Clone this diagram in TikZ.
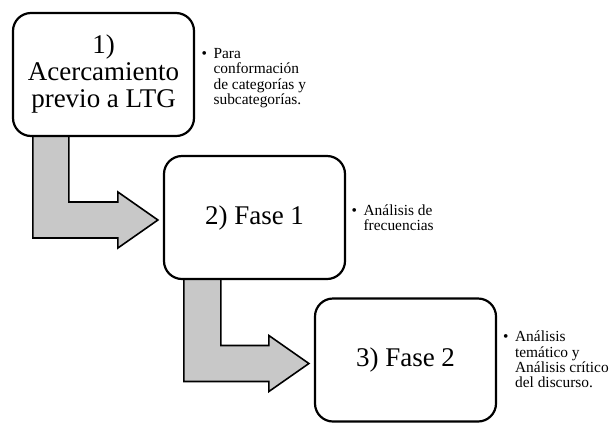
\documentclass[tikz,border=0pt]{standalone}
\usepackage{fontspec}
\setmainfont{Liberation Serif}
\usetikzlibrary{positioning, calc, backgrounds}
\definecolor{arrowgray}{HTML}{C8C8C8}

\begin{document}
\begin{tikzpicture}[x=1pt, y=-1pt,
  stage/.style={rectangle, draw=black, fill=white, line width=2.2pt, rounded corners=18pt, minimum width=181pt, minimum height=123pt, inner sep=0pt, align=center, font=\fontsize{27}{27}\selectfont},
  note/.style={anchor=north west, inner sep=0pt, font=\fontsize{15.4}{15.2}\selectfont},
  bendarrow/.style={draw=black, fill=arrowgray, line width=1.6pt, line join=miter}
]
  \useasboundingbox (0,0) rectangle (612,424);

  % Stages
  \node[stage] (fase0) at (103.5, 74.5) {1)\\Acercamiento\\previo a LTG};
  \node[stage] (fase1) at (254.5, 217.5) {2) Fase 1};
  \node[stage] (fase2) at (405.5, 360) {3) Fase 2};

  % Notes
  \node[note] (info0) at (201.5, 47.5) {\begin{tabular}{@{}l@{\hspace{6.5pt}}l@{}}\textbullet & Para\\ & conformación\\ & de categorías y\\ & subcategorías.\end{tabular}};
  \node[note] (info1) at (351.5, 204.5) {\begin{tabular}{@{}l@{\hspace{6.5pt}}l@{}}\textbullet & Análisis de\\ & frecuencias\end{tabular}};
  \node[note] (info2) at (503, 331) {\begin{tabular}{@{}l@{\hspace{6.5pt}}l@{}}\textbullet & Análisis\\ & temático y\\ & Análisis crítico\\ & del discurso.\end{tabular}};

  % Arrows
  \begin{scope}[on background layer]
    \draw[bendarrow] let \p1=(fase0.south west), \p2=($(fase1.west)+(-5,2.5)$) in
      (\x1+21pt,\y1+2pt) -- (\x1+57pt,\y1+2pt) -- (\x1+57pt,\y2+18pt) -- (\x2-40pt,\y2+18pt)
      -- (\x2-40pt,\y2+28pt) -- (\p2) -- (\x2-40pt,\y2-28pt) -- (\x2-40pt,\y2-18pt)
      -- (\x1+21pt,\y2-18pt) -- cycle;
    \draw[bendarrow] let \p1=(fase1.south west), \p2=($(fase2.west)+(-5,3.5)$) in
      (\x1+21pt,\y1+2pt) -- (\x1+58pt,\y1+2pt) -- (\x1+58pt,\y2+18pt) -- (\x2-40pt,\y2+18pt)
      -- (\x2-40pt,\y2+28pt) -- (\p2) -- (\x2-40pt,\y2-28pt) -- (\x2-40pt,\y2-18pt)
      -- (\x1+21pt,\y2-18pt) -- cycle;
  \end{scope}
\end{tikzpicture}
\end{document}
